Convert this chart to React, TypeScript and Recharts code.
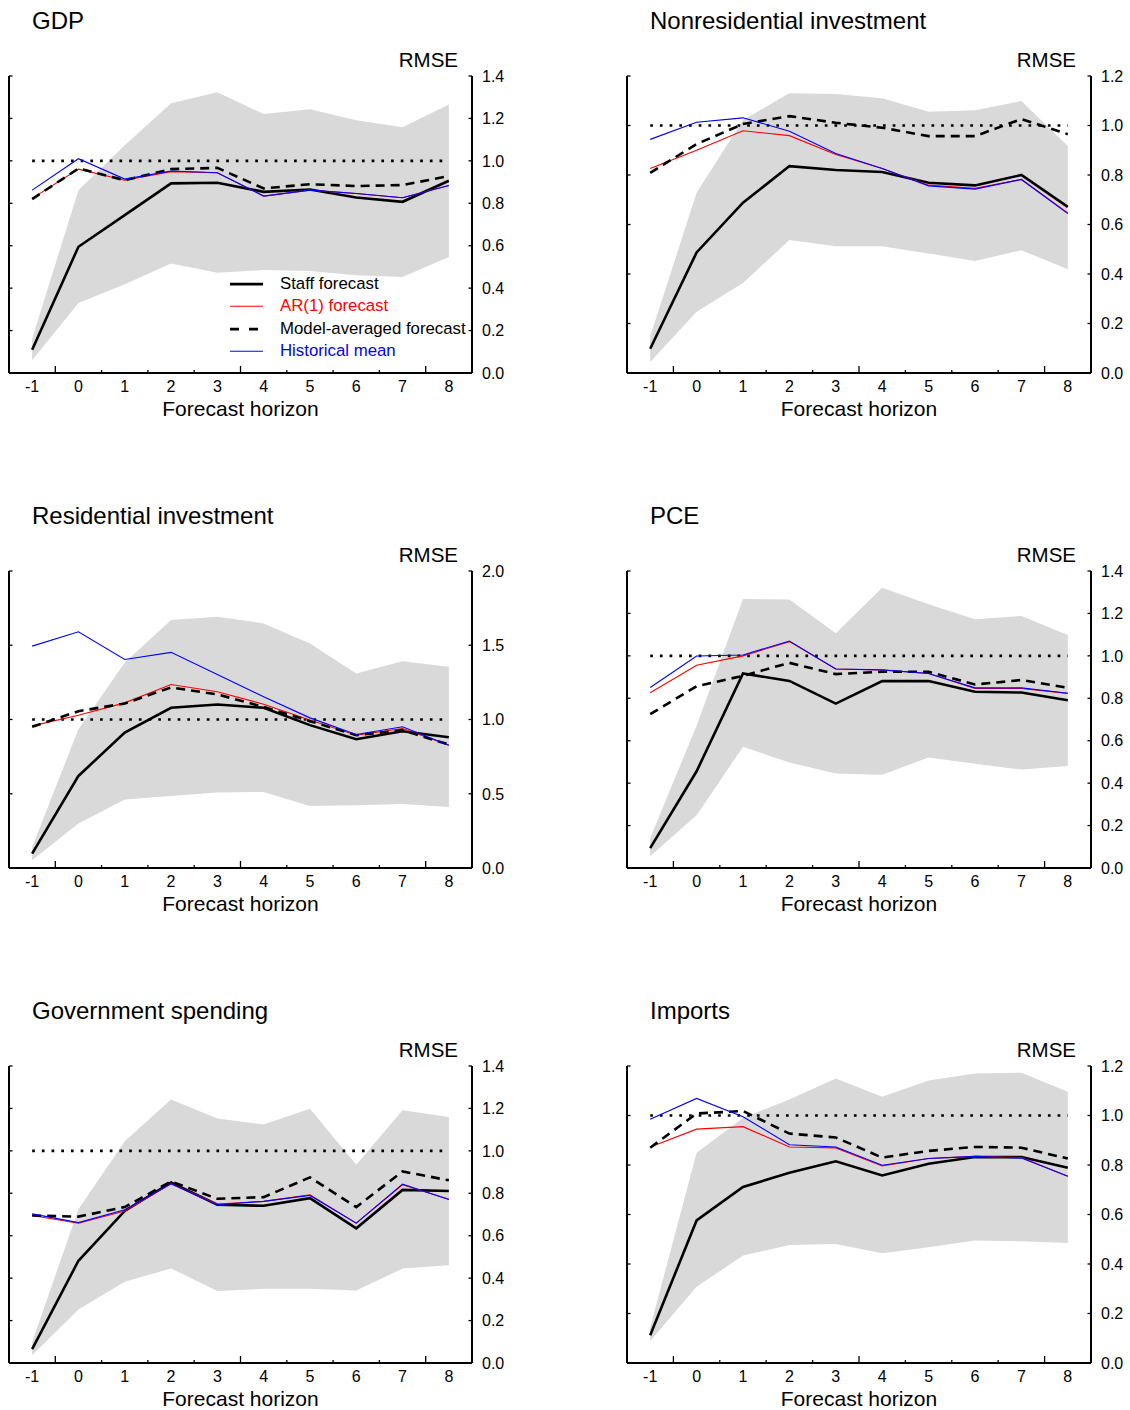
import React from 'react';
import { ComposedChart, Line, Area, XAxis, YAxis, ReferenceLine, Legend } from 'recharts';

// ---------- data ----------
const horizons = [-1, 0, 1, 2, 3, 4, 5, 6, 7, 8];
const xTickValues = [-1, -0.5, 0, 0.5, 1, 1.5, 2, 2.5, 3, 3.5, 4, 4.5, 5, 5.5, 6, 6.5, 7, 7.5, 8];
const majorBoundaries = [-0.5, 3.5, 7.5];

const yTicks14 = [0, 0.2, 0.4, 0.6, 0.8, 1.0, 1.2, 1.4];
const yTicks12 = [0, 0.2, 0.4, 0.6, 0.8, 1.0, 1.2];
const yTicks20 = [0, 0.5, 1.0, 1.5, 2.0];

const benchmark = 1.0;

const gdpStaff = [0.11, 0.595, 0.744, 0.894, 0.897, 0.854, 0.865, 0.827, 0.807, 0.906];
const gdpAR = [0.823, 0.961, 0.909, 0.949, 0.944, 0.834, 0.862, 0.846, 0.826, 0.884];
const gdpAvg = [0.82, 0.964, 0.909, 0.961, 0.967, 0.87, 0.89, 0.881, 0.886, 0.928];
const gdpHist = [0.862, 1.01, 0.914, 0.952, 0.944, 0.834, 0.862, 0.846, 0.826, 0.884];
const gdpHi = [0.162, 0.862, 1.074, 1.271, 1.323, 1.221, 1.243, 1.192, 1.158, 1.266];
const gdpLo = [0.06, 0.33, 0.418, 0.516, 0.473, 0.485, 0.481, 0.461, 0.453, 0.547];

const nonresStaff = [0.098, 0.487, 0.688, 0.836, 0.82, 0.812, 0.769, 0.758, 0.8, 0.671];
const nonresAR = [0.826, 0.9, 0.979, 0.959, 0.883, 0.826, 0.759, 0.746, 0.782, 0.647];
const nonresAvg = [0.809, 0.925, 1.006, 1.038, 1.011, 0.991, 0.957, 0.957, 1.026, 0.965];
const nonresHist = [0.944, 1.013, 1.031, 0.977, 0.887, 0.826, 0.756, 0.743, 0.782, 0.644];
const nonresHi = [0.148, 0.728, 1.022, 1.13, 1.127, 1.11, 1.056, 1.062, 1.099, 0.917];
const nonresLo = [0.044, 0.247, 0.364, 0.537, 0.512, 0.512, 0.483, 0.453, 0.496, 0.419];

const resStaff = [0.097, 0.62, 0.912, 1.079, 1.101, 1.079, 0.962, 0.867, 0.921, 0.881];
const resAR = [0.957, 1.029, 1.112, 1.236, 1.187, 1.103, 0.996, 0.894, 0.939, 0.827];
const resAvg = [0.951, 1.056, 1.108, 1.216, 1.169, 1.085, 0.989, 0.894, 0.928, 0.831];
const resHist = [1.494, 1.591, 1.404, 1.452, 1.303, 1.153, 1.011, 0.899, 0.951, 0.827];
const resHi = [0.142, 0.935, 1.384, 1.67, 1.692, 1.647, 1.512, 1.31, 1.393, 1.355];
const resLo = [0.052, 0.299, 0.461, 0.485, 0.508, 0.512, 0.418, 0.422, 0.431, 0.411];

const pceStaff = [0.094, 0.456, 0.917, 0.882, 0.775, 0.881, 0.881, 0.831, 0.827, 0.791];
const pceAR = [0.826, 0.956, 1.0, 1.067, 0.938, 0.933, 0.917, 0.846, 0.846, 0.823];
const pceAvg = [0.725, 0.857, 0.906, 0.967, 0.914, 0.925, 0.925, 0.865, 0.886, 0.849];
const pceHist = [0.851, 0.999, 1.004, 1.07, 0.938, 0.934, 0.917, 0.849, 0.849, 0.824];
const pceHi = [0.142, 0.67, 1.268, 1.266, 1.106, 1.321, 1.243, 1.172, 1.188, 1.098];
const pceLo = [0.055, 0.249, 0.571, 0.497, 0.445, 0.44, 0.521, 0.492, 0.464, 0.481];

const govStaff = [0.065, 0.482, 0.717, 0.851, 0.746, 0.741, 0.777, 0.635, 0.816, 0.811];
const govAR = [0.695, 0.659, 0.716, 0.845, 0.749, 0.762, 0.793, 0.659, 0.84, 0.772];
const govAvg = [0.695, 0.69, 0.735, 0.856, 0.774, 0.782, 0.875, 0.735, 0.903, 0.861];
const govHist = [0.703, 0.662, 0.722, 0.845, 0.746, 0.762, 0.79, 0.659, 0.843, 0.771];
const govHi = [0.099, 0.725, 1.045, 1.242, 1.152, 1.124, 1.198, 0.934, 1.192, 1.16];
const govLo = [0.036, 0.252, 0.383, 0.446, 0.339, 0.35, 0.35, 0.342, 0.445, 0.461];

const impStaff = [0.112, 0.576, 0.711, 0.769, 0.815, 0.758, 0.805, 0.832, 0.832, 0.789];
const impAR = [0.873, 0.945, 0.955, 0.873, 0.869, 0.796, 0.826, 0.835, 0.83, 0.755];
const impAvg = [0.87, 1.008, 1.018, 0.927, 0.911, 0.83, 0.857, 0.873, 0.87, 0.826];
const impHist = [0.985, 1.069, 0.995, 0.882, 0.873, 0.799, 0.826, 0.835, 0.828, 0.755];
const impHi = [0.143, 0.849, 0.99, 1.065, 1.149, 1.076, 1.141, 1.17, 1.173, 1.096];
const impLo = [0.089, 0.308, 0.434, 0.477, 0.481, 0.443, 0.468, 0.495, 0.492, 0.485];

const legendLabels = ['Staff forecast', 'AR(1) forecast', 'Model-averaged forecast', 'Historical mean'];

// ---------- styling / layout ----------
const FONT = '"Liberation Sans", Arial, Helvetica, sans-serif';
const STAFF_COLOR = '#000000';
const AR_COLOR = '#ff0000';
const AVG_COLOR = '#000000';
const HIST_COLOR = '#0000ff';
const BAND_COLOR = '#d9d9d9';

const TITLE_FS = 24;
const RMSE_FS = 20.5;
const XLABEL_FS = 21;
const TICK_FS = 16;
const LEGEND_FS = 16.8;

const legendStyles = [
  { color: STAFF_COLOR, width: 2.7, dash: undefined as string | undefined, text: '#000000' },
  { color: AR_COLOR, width: 1.1, dash: undefined, text: '#ff0000' },
  { color: AVG_COLOR, width: 2.7, dash: '9 10', text: '#000000' },
  { color: HIST_COLOR, width: 1.1, dash: undefined, text: '#0000ff' },
];

type Panel = {
  title: string;
  yMax: number;
  yTicks: number[];
  staff: number[];
  ar: number[];
  avg: number[];
  hist: number[];
  lo: number[];
  hi: number[];
  col: number;
  row: number;
  legend?: boolean;
};

const panels: Panel[] = [
  { title: 'GDP', yMax: 1.4, yTicks: yTicks14, staff: gdpStaff, ar: gdpAR, avg: gdpAvg, hist: gdpHist, lo: gdpLo, hi: gdpHi, col: 0, row: 0, legend: true },
  { title: 'Nonresidential investment', yMax: 1.2, yTicks: yTicks12, staff: nonresStaff, ar: nonresAR, avg: nonresAvg, hist: nonresHist, lo: nonresLo, hi: nonresHi, col: 1, row: 0 },
  { title: 'Residential investment', yMax: 2.0, yTicks: yTicks20, staff: resStaff, ar: resAR, avg: resAvg, hist: resHist, lo: resLo, hi: resHi, col: 0, row: 1 },
  { title: 'PCE', yMax: 1.4, yTicks: yTicks14, staff: pceStaff, ar: pceAR, avg: pceAvg, hist: pceHist, lo: pceLo, hi: pceHi, col: 1, row: 1 },
  { title: 'Government spending', yMax: 1.4, yTicks: yTicks14, staff: govStaff, ar: govAR, avg: govAvg, hist: govHist, lo: govLo, hi: govHi, col: 0, row: 2 },
  { title: 'Imports', yMax: 1.2, yTicks: yTicks12, staff: impStaff, ar: impAR, avg: impAvg, hist: impHist, lo: impLo, hi: impHi, col: 1, row: 2 },
];

const ROW_OFFSETS = [0, 495, 990];
const COLS = [
  { divLeft: 0, width: 560, mLeft: 4, mRight: 58, plotLeft: 9, plotRight: 472, titleX: 32, rmseRight: 458 },
  { divLeft: 600, width: 530, mLeft: 22, mRight: 9, plotLeft: 627, plotRight: 1091, titleX: 650, rmseRight: 1076 },
];
const CHART_H = 420;
const M_TOP = 76;
const PLOT_H = 297;
const X_AXIS_H = 30;
const M_BOTTOM = CHART_H - M_TOP - PLOT_H - X_AXIS_H;

// cap-centre offset from the top of a line-height:1 box (Arial metrics)
const capCentre = (fs: number) => fs * (0.8465 - 0.358);

// ---------- ticks ----------
function XTick(props: any) {
  const { x, y, payload } = props;
  const v = Number(payload.value);
  if (Number.isInteger(v)) {
    return (
      <text x={x} y={y + 19} textAnchor="middle" fontSize={TICK_FS} fontFamily={FONT} fill="#000">
        {String(v)}
      </text>
    );
  }
  const len = majorBoundaries.includes(v) ? 7 : 3;
  return <line x1={x} x2={x} y1={y} y2={y - len} stroke="#000" strokeWidth={1.3} />;
}

function RightTick(props: any) {
  const { x, y, payload } = props;
  return (
    <g>
      <line x1={x} x2={x - 3.5} y1={y} y2={y} stroke="#000" strokeWidth={1.3} />
      <text x={x + 10} y={y} dy="0.36em" textAnchor="start" fontSize={TICK_FS} fontFamily={FONT} fill="#000">
        {Number(payload.value).toFixed(1)}
      </text>
    </g>
  );
}

function LeftTick(props: any) {
  const { x, y } = props;
  return <line x1={x} x2={x + 3.5} y1={y} y2={y} stroke="#000" strokeWidth={1.3} />;
}

function LegendBox() {
  return (
    <div style={{ fontFamily: FONT, fontSize: LEGEND_FS }}>
      {legendLabels.map((label, i) => {
        const s = legendStyles[i];
        return (
          <div key={label} style={{ display: 'flex', alignItems: 'center', height: 22.4, lineHeight: '22.4px' }}>
            <svg width={33} height={22.4} style={{ display: 'block' }}>
              <line x1={0} x2={33} y1={11.2} y2={11.2} stroke={s.color} strokeWidth={s.width} strokeDasharray={s.dash} />
            </svg>
            <span style={{ marginLeft: 17, color: s.text, whiteSpace: 'nowrap' }}>{label}</span>
          </div>
        );
      })}
    </div>
  );
}

function PanelChart({ p }: { p: Panel }) {
  const c = COLS[p.col];
  const top = ROW_OFFSETS[p.row];
  const data = horizons.map((h, i) => ({
    h,
    staff: p.staff[i],
    ar: p.ar[i],
    avg: p.avg[i],
    hist: p.hist[i],
    band: [p.lo[i], p.hi[i]],
  }));
  const plotCenter = (c.plotLeft + c.plotRight) / 2;
  return (
    <>
      <div
        style={{
          position: 'absolute', left: c.titleX, top: top + 20.8 - capCentre(TITLE_FS), fontFamily: FONT, fontSize: TITLE_FS,
          lineHeight: 1, whiteSpace: 'nowrap', color: '#000',
        }}
      >
        {p.title}
      </div>
      <div
        style={{
          position: 'absolute', left: c.rmseRight - 200, width: 200, textAlign: 'right', top: top + 60 - capCentre(RMSE_FS),
          fontFamily: FONT, fontSize: RMSE_FS, lineHeight: 1, color: '#000',
        }}
      >
        RMSE
      </div>
      <div
        style={{
          position: 'absolute', left: plotCenter - 150, width: 300, textAlign: 'center', top: top + 408.5 - capCentre(XLABEL_FS),
          fontFamily: FONT, fontSize: XLABEL_FS, lineHeight: 1, color: '#000',
        }}
      >
        Forecast horizon
      </div>
      <div style={{ position: 'absolute', left: c.divLeft, top, width: c.width, height: CHART_H }}>
        <ComposedChart
          width={c.width}
          height={CHART_H}
          data={data}
          margin={{ top: M_TOP, right: c.mRight, bottom: M_BOTTOM, left: c.mLeft }}
        >
          <XAxis
            type="number"
            dataKey="h"
            domain={[-1.5, 8.5]}
            ticks={xTickValues}
            interval={0}
            tickSize={0}
            tickMargin={0}
            tickLine={false}
            tick={<XTick />}
            axisLine={{ stroke: '#000', strokeWidth: 2 }}
            height={X_AXIS_H}
            allowDataOverflow
          />
          <YAxis
            yAxisId="l"
            orientation="left"
            type="number"
            domain={[0, p.yMax]}
            ticks={p.yTicks}
            interval={0}
            width={5}
            tickSize={0}
            tickMargin={0}
            tickLine={false}
            tick={<LeftTick />}
            axisLine={{ stroke: '#000', strokeWidth: 2 }}
            allowDataOverflow
          />
          <YAxis
            yAxisId="r"
            orientation="right"
            type="number"
            domain={[0, p.yMax]}
            ticks={p.yTicks}
            interval={0}
            width={30}
            tickSize={0}
            tickMargin={0}
            tickLine={false}
            tick={<RightTick />}
            axisLine={{ stroke: '#000', strokeWidth: 2 }}
            allowDataOverflow
          />
          <Area
            yAxisId="r"
            dataKey="band"
            type="linear"
            stroke="none"
            fill={BAND_COLOR}
            fillOpacity={1}
            isAnimationActive={false}
            legendType="none"
          />
          <ReferenceLine
            yAxisId="r"
            segment={[{ x: horizons[0], y: benchmark }, { x: horizons[horizons.length - 1], y: benchmark }]}
            stroke="#000"
            strokeWidth={2.7}
            strokeDasharray="2.7 7"
          />
          <Line yAxisId="r" dataKey="staff" type="linear" stroke={STAFF_COLOR} strokeWidth={2.6} dot={false} activeDot={false} isAnimationActive={false} />
          <Line yAxisId="r" dataKey="ar" type="linear" stroke={AR_COLOR} strokeWidth={1.1} dot={false} activeDot={false} isAnimationActive={false} />
          <Line yAxisId="r" dataKey="avg" type="linear" stroke={AVG_COLOR} strokeWidth={2.6} strokeDasharray="9 6" dot={false} activeDot={false} isAnimationActive={false} />
          <Line yAxisId="r" dataKey="hist" type="linear" stroke={HIST_COLOR} strokeWidth={1.1} dot={false} activeDot={false} isAnimationActive={false} />
          {p.legend ? (
            <Legend
              layout="vertical"
              align="center"
              verticalAlign="middle"
              content={() => <LegendBox />}
              wrapperStyle={{ left: 230, top: 272.8, width: 260, height: 'auto' }}
            />
          ) : null}
        </ComposedChart>
      </div>
    </>
  );
}

export default function App() {
  return (
    <div
      style={{
        position: 'absolute', left: 0, top: 0, width: 1130, height: 1410, overflow: 'hidden', background: '#fff',
      }}
    >
      {panels.map((p) => (
        <PanelChart key={p.title} p={p} />
      ))}
    </div>
  );
}
